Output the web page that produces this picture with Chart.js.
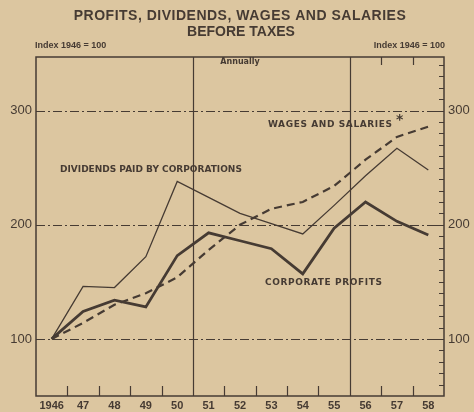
<!DOCTYPE html>
<html>
<head>
<meta charset="utf-8">
<script src="https://cdn.jsdelivr.net/npm/chart.js@4/dist/chart.umd.min.js"></script>
<style>
    html, body { margin: 0; padding: 0; background: #dcc6a0; }
    #wrap { position: relative; width: 474px; height: 412px; }
</style>
</head>
<body>
<div id="wrap"><canvas id="profitsChart" width="474" height="412"></canvas></div>
<script>
const years = ['1946', '47', '48', '49', '50', '51', '52', '53', '54', '55', '56', '57', '58'];
const dividends = [100, 146, 145, 172, 238, 224, 210, 201, 192, 217, 243, 267, 248];
const profits = [100, 124, 134, 128, 173, 193, 186, 179, 157, 197, 220, 203, 191];
const wages = [100, 114, 130, 140, 154, 178, 200, 214, 220, 234, 257, 277, 286];
const majorTicks = [100, 200, 300];
const dividerAfter = ['50', '55'];

const ink = '#463b33';

// ---------------- Marco, rejilla y rótulos ----------------

const decorations = {
    id: 'decorations',
    beforeDatasetsDraw(chart) {
        const { ctx, chartArea: a, scales: { x, y } } = chart;
        ctx.save();
        ctx.strokeStyle = ink;

        // lineas de rejilla punto-raya
        ctx.lineWidth = 1;
        ctx.setLineDash([9, 3, 2, 3]);
        majorTicks.forEach(v => {
            const py = Math.round(y.getPixelForValue(v)) + 0.5;
            ctx.beginPath();
            ctx.moveTo(a.left, py);
            ctx.lineTo(a.right, py);
            ctx.stroke();
        });
        ctx.setLineDash([]);

        // marco
        ctx.lineWidth = 1.5;
        ctx.strokeRect(a.left, a.top, a.right - a.left, a.bottom - a.top);

        // separadores y marcas entre años
        for (let i = 0; i < years.length - 1; i++) {
            const px = Math.round((x.getPixelForValue(i) + x.getPixelForValue(i + 1)) / 2) + 0.5;
            ctx.lineWidth = 1.2;
            ctx.beginPath();
            if (dividerAfter.includes(years[i])) {
                ctx.moveTo(px, a.top);
                ctx.lineTo(px, a.bottom);
            } else {
                ctx.moveTo(px, a.bottom);
                ctx.lineTo(px, a.bottom - 10);
                if (i > 9) {
                    ctx.moveTo(px, a.top);
                    ctx.lineTo(px, a.top + 8);
                }
            }
            ctx.stroke();
        }

        // marcas menores del eje derecho
        ctx.lineWidth = 1;
        for (let v = 60; v <= 340; v += 10) {
            const py = Math.round(y.getPixelForValue(v)) + 0.5;
            const len = v % 100 === 0 ? 10 : 5;
            ctx.beginPath();
            ctx.moveTo(a.right, py);
            ctx.lineTo(a.right - len, py);
            ctx.stroke();
        }

        // textos
        ctx.fillStyle = ink;
        ctx.textBaseline = 'middle';
        ctx.textAlign = 'center';
        ctx.font = 'bold 14px "Liberation Sans"';
        ctx.letterSpacing = '0.5px';
        ctx.fillText('PROFITS, DIVIDENDS, WAGES AND SALARIES', 240, 16);
        ctx.letterSpacing = '0px';
        ctx.fillText('BEFORE TAXES', 241, 32);

        ctx.font = 'bold 8px "DejaVu Sans"';
        ctx.fillText('Annually', 240, 62);
        ctx.font = 'bold 9px "Liberation Sans"';
        ctx.textAlign = 'left';
        ctx.fillText('Index 1946 = 100', 35, 46);
        ctx.textAlign = 'right';
        ctx.fillText('Index 1946 = 100', 445, 46);

        ctx.textAlign = 'left';
        ctx.font = 'bold 9px "DejaVu Sans"';
        ctx.fillText('DIVIDENDS PAID BY CORPORATIONS', 60, 170);
        ctx.letterSpacing = '0.6px';
        ctx.fillText('WAGES AND SALARIES', 268, 125);
        ctx.fillText('CORPORATE PROFITS', 265, 283);
        ctx.letterSpacing = '0px';
        ctx.font = 'bold 14px "DejaVu Sans"';
        ctx.fillText('*', 396, 120);
        ctx.restore();
    }
};

function tickLabel(value) {
    return majorTicks.includes(value) ? String(value) : '';
}

new Chart(document.getElementById('profitsChart'), {
    type: 'line',
    data: {
        labels: years,
        datasets: [
            { label: 'Dividends paid by corporations', data: dividends, borderColor: ink, borderWidth: 1.3 },
            { label: 'Corporate profits', data: profits, borderColor: ink, borderWidth: 2.8 },
            { label: 'Wages and salaries', data: wages, borderColor: ink, borderWidth: 2.2, borderDash: [8, 5] }
        ]
    },
    options: {
        responsive: false,
        animation: false,
        layout: { padding: { top: 57, left: 0, right: 0, bottom: 0 } },
        elements: { point: { radius: 0 }, line: { tension: 0 } },
        plugins: { legend: { display: false }, tooltip: { enabled: false } },
        scales: {
            x: {
                offset: true,
                grid: { display: false, drawTicks: false },
                border: { display: false },
                ticks: { color: ink, padding: 3, maxRotation: 0, autoSkip: false, font: { family: 'Liberation Sans', size: 11, weight: 'bold' } },
                afterFit: s => { s.height = 16; }
            },
            y: {
                min: 50, max: 347,
                grid: { display: false, drawTicks: false },
                border: { display: false },
                ticks: { stepSize: 10, autoSkip: false, callback: tickLabel, color: ink, padding: 4, font: { family: 'Liberation Sans', size: 13 } },
                afterFit: s => { s.width = 36; }
            },
            y2: {
                position: 'right',
                min: 50, max: 347,
                grid: { display: false, drawTicks: false },
                border: { display: false },
                ticks: { stepSize: 10, autoSkip: false, callback: tickLabel, color: ink, padding: 4, font: { family: 'Liberation Sans', size: 13 } },
                afterFit: s => { s.width = 30; }
            }
        }
    },
    plugins: [decorations]
});
</script>
</body>
</html>
